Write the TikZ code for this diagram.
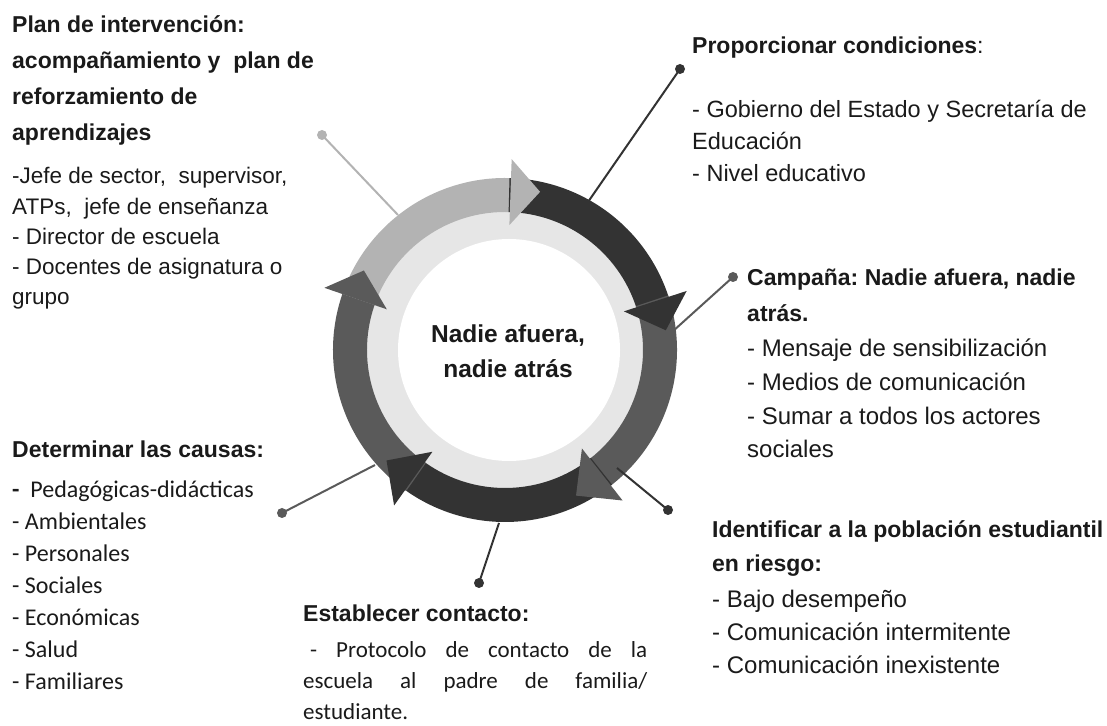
\documentclass[tikz,border=0pt]{standalone}
\usepackage{fontspec}
\setmainfont{Liberation Sans}
\newfontfamily\calibfont{Carlito}
\usetikzlibrary{positioning}
\frenchspacing
\definecolor{lgray}{HTML}{B3B3B3}
\definecolor{dgray}{HTML}{333333}
\definecolor{mgray}{HTML}{5A5A5A}
\definecolor{ringfill}{HTML}{E6E6E6}
\definecolor{txtgray}{HTML}{1A1A1A}
\tikzset{
  heading/.style={font=\fontsize{23}{36}\selectfont\bfseries, anchor=base west,
    inner sep=0pt, align=left, text=txtgray},
  bodytxt/.style={font=\fontsize{24}{33}\selectfont, anchor=base west,
    inner sep=0pt, align=left, text=txtgray},
  calibtxt/.style={font=\calibfont\fontsize{24}{32}\selectfont, anchor=base west,
    inner sep=0pt, align=left, text=txtgray},
  pindot/.style={circle, fill=#1, inner sep=0pt, minimum size=10pt},
  pinline/.style={draw=#1, line width=2pt}
}

\begin{document}
\begin{tikzpicture}[x=1pt, y=1pt]
  \useasboundingbox (0,0) rectangle (1107,725);

  % ring
  \begin{scope}[shift={(505,375)}]
    \fill[ringfill] (0,0) circle[radius=140];
    \fill[white] (4,0) circle[radius=111];
    \foreach \a/\b/\t/\c in {161.5/88/77.5/lgray, 88.5/18/7/dgray, 18.5/-52/-64/mgray,
                             -51.5/-125.5/-137/dgray, -125/-199/-209.4/mgray}{
      \fill[\c] (\a:172) arc[start angle=\a, end angle=\b, radius=172]
        -- (\b:138) arc[start angle=\b, end angle=\a, radius=138] -- cycle;
    };
    \foreach \a/\b/\t/\c in {161.5/88/77.5/lgray, 88.5/18/7/dgray, 18.5/-52/-64/mgray,
                             -51.5/-125.5/-137/dgray, -125/-199/-209.4/mgray}{
      \fill[\c] (\b:125) -- (\b:191) -- (\t:162) -- cycle;
    };
  \end{scope}

  % (base anchor = last line)
  \node[font=\fontsize{24.5}{35}\selectfont\bfseries, align=center, anchor=base,
        inner sep=0pt, text=txtgray] (core) at (508,347) {Nadie afuera,\\nadie atrás};

  % connectors
  \coordinate (rplan) at (398,510);
  \coordinate (rprop) at (588,523);
  \coordinate (rcamp) at (672,393);
  \coordinate (rident) at (617,257);
  \coordinate (restab) at (499,202);
  \coordinate (rdeter) at (375,260);
  \node[pindot=lgray] (dplan) at (322,590) {};
  \node[pindot=dgray] (dprop) at (680,656) {};
  \node[pindot=mgray] (dcamp) at (733,448) {};
  \node[pindot=dgray] (dident) at (668,215) {};
  \node[pindot=dgray] (destab) at (479,142) {};
  \node[pindot=mgray] (ddeter) at (282,212) {};
  \draw[pinline=lgray] (rplan) -- (dplan.center);
  \draw[pinline=dgray] (rprop) -- (dprop.center);
  \draw[pinline=mgray] (rcamp) -- (dcamp.center);
  \draw[pinline=dgray] (rident) -- (dident.center);
  \draw[pinline=dgray] (restab) -- (destab.center);
  \draw[pinline=mgray] (rdeter) -- (ddeter.center);

  % texts
  \node[heading] (plan) at (12,584) {Plan de intervención:\\acompañamiento y\ \ plan de\\reforzamiento de\\aprendizajes};
  \node[bodytxt, font=\fontsize{22.5}{30.3}\selectfont] (planlist) at (12,420)
    {-Jefe de sector,\ \ supervisor,\\ATPs,\ \ jefe de enseñanza\\- Director de escuela\\- Docentes de asignatura o\\grupo};

  \node[heading] (prop) at (692,671) {Proporcionar condiciones{\mdseries:}};
  \node[bodytxt, font=\fontsize{23.5}{32}\selectfont] (proplist) at (692,543)
    {- Gobierno del Estado y Secretaría de\\Educación\\- Nivel educativo};

  \node[heading] (camp) at (747,403) {Campaña: Nadie afuera, nadie\\atrás.};
  \node[bodytxt, font=\fontsize{24}{33.7}\selectfont] (camplist) at (747,267)
    {- Mensaje de sensibilización\\- Medios de comunicación\\- Sumar a todos los actores\\sociales};

  \node[heading, font=\fontsize{23}{34}\selectfont\bfseries] (ident) at (712,153)
    {Identificar a la población estudiantil\\en riesgo:};
  \node[bodytxt] (identlist) at (712,52)
    {- Bajo desempeño\\- Comunicación intermitente\\- Comunicación inexistente};

  \node[heading] (estab) at (303,103) {Establecer contacto:};
  \node[calibtxt, font=\calibfont\fontsize{23}{31}\selectfont] (establist) at (303,6)
    {\makebox[344pt][s]{\hspace{7pt}- Protocolo de contacto de la}\\
     \makebox[344pt][s]{escuela al padre de familia/}\\estudiante.};

  \node[heading] (deter) at (12,267) {Determinar las causas:};
  \node[calibtxt] (deterlist) at (12,36)
    {{\bfseries -}\ \ Pedagógicas-didácticas\\- Ambientales\\- Personales\\- Sociales\\- Económicas\\- Salud\\- Familiares};
\end{tikzpicture}
\end{document}
